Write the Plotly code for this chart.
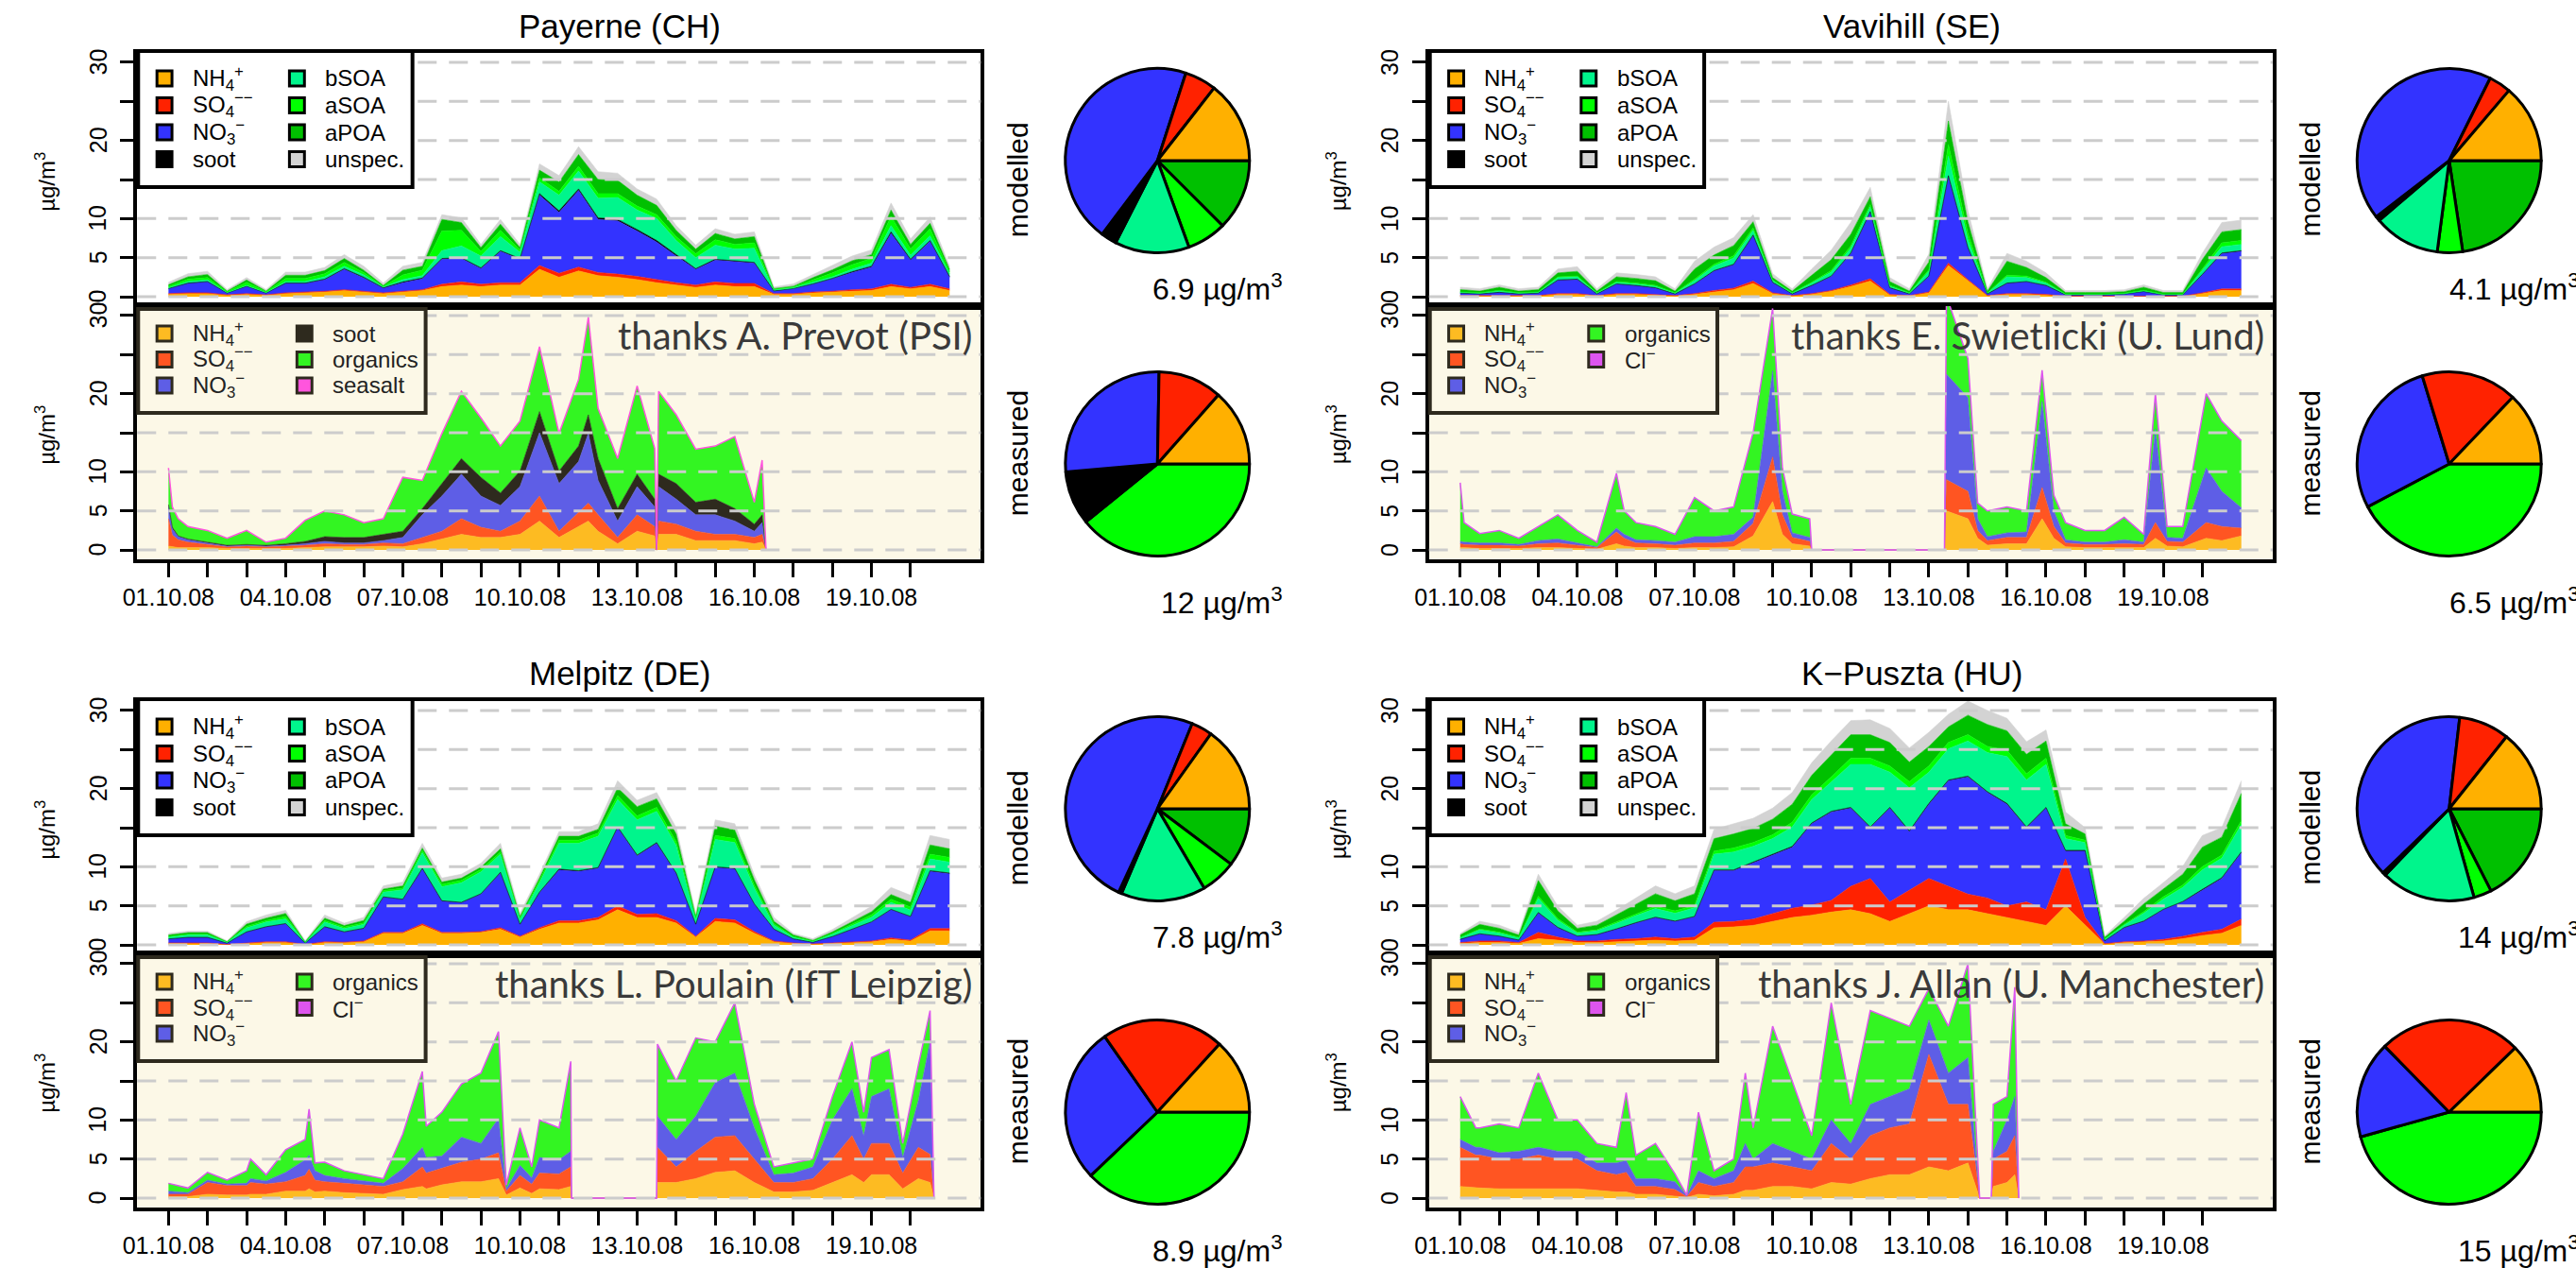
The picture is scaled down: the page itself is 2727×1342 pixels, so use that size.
import plotly.graph_objects as go

W, H = 2727, 1342
FONT = "Liberation Sans, Arial, Helvetica, sans-serif"
THANKS_FONT = "Lato, Open Sans, sans-serif"

# ---------------- time axes (days since 01.10.08) ----------------
T_MOD = [0, 0.5, 1, 1.5, 2, 2.5, 3, 3.5, 4, 4.5, 5, 5.5, 6, 6.5, 7, 7.5, 8, 8.5, 9, 9.5, 10,
         10.5, 11, 11.5, 12, 12.5, 13, 13.5, 14, 14.5, 15, 15.5, 16, 16.5, 17, 17.5, 18, 18.5, 19, 19.5, 20]
X_TICK_DAYS = [0, 1, 2, 3, 4, 5, 6, 7, 8, 9, 10, 11, 12, 13, 14, 15, 16, 17, 18, 19]
X_TICK_LABELS = ["01.10.08", "", "", "04.10.08", "", "", "07.10.08", "", "", "10.10.08", "", "",
                 "13.10.08", "", "", "16.10.08", "", "", "19.10.08", ""]
Y_TICKS = [0, 5, 10, 15, 20, 25, 30]
Y_TICK_LABELS = ["0", "5", "10", "", "20", "", "30"]

# ---------------- Payerne modelled ----------------
pay_mod_nh4 = [.3,.4,.4,.2,.3,.2,.4,.5,.6,.8,.6,.4,.6,.8,1.3,1.5,1.3,1.5,1.5,3.5,2.5,3.3,2.7,2.5,2.2,1.8,1.5,1.2,1.5,1.3,1.3,.3,.3,.5,.6,.7,.8,1.3,1.0,1.3,.8]
pay_mod_so4 = [.1,.1,.1,.05,.1,.05,.1,.1,.1,.1,.1,.1,.1,.1,.3,.4,.3,.3,.3,.5,.5,.5,.4,.4,.4,.4,.3,.3,.4,.4,.4,.1,.1,.1,.1,.2,.2,.3,.2,.3,.2]
pay_mod_no3 = [.6,1.2,1.4,.2,.9,.2,1.2,1.1,1.5,2.6,1.7,.6,1.1,1.4,3.2,3.0,2.0,4.0,3.0,9.0,7.8,9.8,6.8,6.8,5.8,4.8,3.4,2.0,2.8,2.8,2.6,.3,.6,1.0,1.6,2.2,2.8,6.5,3.5,5.5,1.5]
pay_mod_soot = [.05,.05,.05,.03,.05,.03,.05,.05,.05,.1,.1,.05,.1,.1,.1,.1,.1,.1,.1,.2,.2,.2,.2,.2,.2,.2,.2,.1,.1,.1,.1,.05,.05,.05,.05,.1,.1,.2,.1,.1,.1]
pay_mod_bsoa = [.1,.2,.2,.05,.1,.05,.2,.2,.3,.3,.3,.1,.3,.3,1.0,1.5,1.5,1.8,.8,1.5,2.0,2.3,2.5,2.8,2.5,2.8,1.8,1.4,1.8,1.5,1.8,.1,.1,.2,.2,.3,.4,.8,.5,.6,.3]
pay_mod_asoa = [.2,.3,.3,.1,.4,.1,.4,.4,.4,.5,.3,.1,.6,.7,2.5,2.0,.6,.8,.3,.5,.5,.6,.6,.5,.5,.5,.5,.5,.7,.6,.7,.1,.1,.3,.5,.6,.6,1.2,.8,.9,.3]
pay_mod_apoa = [.2,.3,.4,.1,.3,.1,.4,.4,.4,.5,.3,.1,.6,.5,1.5,1.0,.5,.8,.3,1.0,1.2,1.5,1.8,1.7,1.4,1.2,.8,.6,.8,.7,.8,.1,.1,.3,.4,.5,.5,.8,.6,.7,.3]
pay_mod_unspec = [.3,.4,.4,.2,.3,.2,.4,.4,.4,.5,.5,.3,.5,.5,.6,.6,.4,.6,.4,.8,.8,1.0,1.0,.9,.8,.8,.6,.5,.6,.6,.6,.2,.3,.4,.5,.6,.6,.9,.7,.8,.4]

# ---------------- Vavihill modelled ----------------
vav_mod_nh4 = [.1,.1,.1,.1,.1,.3,.3,.1,.3,.3,.2,.1,.3,.6,.9,1.7,.4,.1,.3,.7,1.3,2.0,.2,.1,.5,4.0,2.0,.1,.3,.3,.2,.05,.05,.05,.1,.1,.05,.05,.4,.8,.8]
vav_mod_so4 = [.05,.05,.05,.05,.05,.1,.1,.05,.1,.1,.1,.05,.1,.2,.2,.3,.1,.05,.1,.1,.2,.3,.1,.05,.1,.3,.2,.05,.1,.1,.1,.03,.03,.03,.03,.05,.03,.03,.1,.2,.2]
vav_mod_no3 = [.3,.2,.4,.2,.3,1.7,1.8,.2,1.2,1.0,.8,.2,1.2,2.5,3.0,5.8,1.3,.2,1.0,1.8,4.0,8.5,.8,.2,2.0,11.0,4.0,.2,1.3,1.5,1.1,.15,.15,.15,.2,.5,.15,.15,2.3,4.5,4.8]
vav_mod_soot = [.02,.02,.02,.02,.02,.05,.05,.02,.05,.05,.05,.02,.05,.05,.05,.1,.05,.02,.05,.05,.1,.1,.05,.02,.05,.2,.1,.02,.05,.05,.05,.02,.02,.02,.02,.02,.02,.02,.05,.1,.1]
vav_mod_bsoa = [.1,.1,.15,.1,.1,.3,.3,.1,.2,.2,.2,.1,.4,.6,.8,.6,.2,.1,.3,.5,.6,.6,.2,.1,.6,2.5,1.0,.1,.8,.5,.3,.05,.05,.05,.05,.1,.05,.05,.5,.8,.8]
vav_mod_asoa = [.05,.05,.1,.05,.05,.1,.1,.05,.1,.1,.1,.05,.2,.2,.3,.3,.1,.05,.1,.2,.3,.3,.1,.05,.2,1.5,.8,.05,.2,.2,.1,.05,.05,.05,.05,.05,.05,.05,.2,.5,.5]
vav_mod_apoa = [.3,.2,.4,.2,.3,.5,.6,.2,.6,.6,.6,.2,1.3,1.2,1.3,.8,.3,.2,.9,1.4,1.5,1.0,.5,.2,1.0,3.0,1.5,.2,1.8,1.1,.6,.2,.2,.2,.2,.4,.2,.2,1.2,1.4,1.4]
vav_mod_unspec = [.3,.3,.3,.3,.3,.5,.6,.3,.5,.5,.5,.3,1.0,1.0,1.0,.9,.5,.3,.8,1.2,1.5,1.2,.5,.3,1.0,2.5,1.4,.3,1.0,.8,.6,.25,.25,.25,.25,.3,.25,.25,.8,1.2,1.2]

# ---------------- Melpitz modelled ----------------
mel_mod_nh4 = [.2,.2,.2,.05,.2,.3,.3,.05,.3,.3,.4,1.5,1.5,2.5,1.5,1.5,1.6,2.0,1.0,2.0,2.8,2.8,3.2,4.5,3.5,3.5,2.8,1.0,3.0,2.8,1.5,.4,.2,.1,.2,.3,.4,.7,.5,1.8,1.8]
mel_mod_so4 = [.05,.05,.05,.02,.05,.1,.1,.02,.1,.05,.1,.1,.1,.2,.1,.1,.1,.2,.1,.2,.3,.3,.3,.5,.4,.5,.3,.1,.4,.4,.2,.1,.05,.03,.05,.1,.1,.2,.1,.3,.3]
mel_mod_no3 = [.5,.7,.7,.15,1.4,1.9,2.3,.15,1.9,1.3,1.6,4.5,4.2,7.0,4.0,3.8,4.8,7.0,1.5,4.5,6.5,6.3,6.3,10.0,7.5,9.0,6.0,1.5,6.5,6.5,3.5,1.5,.5,.2,.8,1.6,2.4,3.6,3.0,7.3,7.0]
mel_mod_soot = [.02,.02,.02,.01,.02,.03,.03,.01,.03,.03,.03,.05,.05,.1,.05,.05,.05,.1,.05,.05,.1,.1,.1,.1,.1,.1,.1,.05,.1,.1,.05,.03,.02,.01,.02,.03,.05,.05,.05,.1,.1]
mel_mod_bsoa = [.2,.3,.3,.1,.5,.6,.6,.1,.6,.4,.5,.6,1.2,2.0,1.8,2.5,2.8,2.3,.6,1.2,3.3,3.5,4.0,3.5,4.5,4.0,3.5,.6,3.5,3.3,2.0,.5,.2,.1,.3,.4,.6,.9,.8,1.5,1.4]
mel_mod_asoa = [.1,.1,.1,.05,.2,.2,.3,.05,.2,.2,.2,.2,.2,.3,.3,.3,.3,.3,.2,.3,.4,.4,.4,.5,.5,.5,.5,.2,.5,.5,.4,.2,.1,.05,.1,.2,.3,.4,.4,.6,.6]
mel_mod_apoa = [.2,.2,.2,.05,.3,.3,.4,.05,.3,.2,.3,.2,.3,.3,.3,.3,.3,.4,.2,.3,.5,.5,.5,1.0,1.2,1.1,1.0,.2,1.2,1.1,.7,.3,.2,.1,.2,.3,.4,.6,.6,1.2,1.1]
mel_mod_unspec = [.2,.2,.2,.1,.3,.4,.4,.1,.4,.3,.4,.4,.5,.6,.5,.5,.5,.7,.4,.5,.6,.6,.7,.9,.8,.8,.8,.4,.8,.8,.6,.5,.2,.2,.3,.5,.7,.9,.9,1.2,1.2]

# ---------------- K-Puszta modelled ----------------
kpu_mod_nh4 = [.2,.3,.3,.2,.8,.6,.3,.3,.4,.5,.6,.5,.6,2.2,2.3,2.5,3.0,3.5,3.8,4.2,4.5,4.0,3.0,4.0,5.0,4.5,4.5,4.0,3.5,3.0,2.5,5.0,2.5,.1,.3,.4,.5,.8,1.2,1.5,2.5]
kpu_mod_so4 = [.1,.2,.2,.1,.8,.4,.2,.2,.3,.3,.4,.3,.4,.7,.7,.8,1.0,1.2,1.3,1.5,3.0,4.5,2.5,3.0,3.5,3.0,2.0,2.0,1.5,2.5,2.0,6.0,1.0,.05,.1,.1,.2,.3,.4,.5,.8]
kpu_mod_no3 = [.4,.9,.6,.3,2.5,1.2,.6,.8,1.3,2.0,2.5,2.2,2.6,6.6,6.5,7.2,7.5,7.8,10.4,11.3,10.0,6.5,12.0,7.5,9.5,13.5,15.0,13.5,13.0,9.5,13.0,1.0,8.5,.35,1.8,2.5,3.8,4.4,5.4,6.5,8.5]
kpu_mod_soot = [.02,.03,.03,.02,.05,.05,.03,.03,.05,.05,.05,.05,.05,.1,.1,.1,.1,.1,.1,.1,.1,.1,.1,.1,.1,.1,.1,.1,.1,.1,.1,.1,.1,.02,.03,.05,.05,.05,.1,.1,.1]
kpu_mod_bsoa = [.2,.5,.4,.3,1.8,.9,.4,.5,.7,.9,1.1,1.0,1.1,2.0,2.3,2.0,2.0,2.5,3.0,3.7,5.5,8.0,4.5,5.5,4.0,4.0,4.5,5.0,6.0,6.0,5.5,1.5,1.0,.2,.3,1.0,1.3,1.8,2.5,2.5,3.5]
kpu_mod_asoa = [.05,.1,.1,.05,.3,.2,.1,.1,.2,.2,.3,.3,.3,.4,.5,.5,.5,.6,.6,.7,.8,.8,.8,.8,.8,.8,.8,.8,.8,.8,.8,.4,.3,.05,.1,.2,.3,.3,.4,.4,.5]
kpu_mod_apoa = [.3,.6,.5,.3,2.0,1.0,.5,.6,.9,1.3,1.6,1.3,1.5,1.6,1.8,1.8,2.0,2.3,2.5,2.8,3.0,3.0,3.0,2.5,2.5,2.0,2.5,2.8,2.5,2.5,2.2,1.5,.8,.2,.4,1.0,1.0,1.4,2.5,2.3,3.5]
kpu_mod_unspec = [.2,.4,.4,.3,.8,.6,.4,.5,.6,.8,1.0,.9,1.0,1.2,1.3,1.3,1.4,1.5,1.6,1.8,1.8,1.9,1.8,1.8,1.8,1.6,1.8,1.8,1.6,1.6,1.4,1.5,.8,.2,.5,.7,.8,1.0,1.5,1.2,1.6]

# ---------------- Payerne measured ----------------
pay_meas_t = [0, 0.1, 0.25, 0.5, 1, 1.5, 2, 2.5, 3, 3.5, 4, 4.5, 5, 5.5, 6, 6.5, 7, 7.5, 8, 8.5, 9, 9.5, 10,
              10.5, 10.75, 11, 11.5, 12, 12.45, 12.5, 12.55, 13, 13.5, 14, 14.5, 15, 15.2, 15.3]
pay_meas_nh4 = [.5,.4,.3,.3,.3,.2,.2,.2,.2,.3,.4,.4,.4,.5,.4,.8,1.4,2.0,1.6,1.6,2.0,3.7,1.6,3.0,3.7,2.4,.8,2.4,1.8,0,2.0,2.0,1.2,1.2,1.2,.8,1.0,0]
pay_meas_so4 = [3.5,1.5,1.0,.7,.4,.2,.3,.2,.3,.3,.4,.3,.3,.4,.4,.8,1.0,2.0,1.3,.8,1.7,3.2,.8,1.8,2.3,2.1,.8,2.1,1.2,0,1.7,1.3,1.2,.8,.8,.8,1.0,0]
pay_meas_no3 = [1.5,.8,.4,.3,.2,.1,.1,.1,.1,.2,.3,.2,.2,.3,.8,2.9,4.5,5.7,4.0,3.3,4.4,8.1,6.1,6.5,8.9,4.4,2.1,3.6,2.5,0,4.4,3.2,2.1,2.5,1.7,.8,1.5,0]
pay_meas_soot = [.3,.2,.1,.1,.1,.1,.1,.1,.2,.3,.6,.7,.7,.8,.8,.8,1.6,2.0,2.4,1.6,2.0,2.7,1.6,2.0,2.4,2.8,1.6,1.6,1.0,0,1.6,2.0,1.6,2.0,1.6,.9,1.0,0]
pay_meas_org = [4.7,2.6,2.2,1.6,1.5,.9,1.8,.4,.7,2.7,3.3,2.9,1.9,2.0,6.9,3.6,6.4,8.6,7.6,6.0,6.4,8.3,4.8,8.5,12.5,6.4,6.4,11.3,6.5,0,10.6,8.8,6.8,6.8,9.2,2.8,7.0,0]

# ---------------- Vavihill measured ----------------
vav_meas_t = [0, 0.1, 0.5, 1, 1.5, 2, 2.5, 3, 3.5, 4, 4.2, 4.5, 5, 5.5, 6, 6.5, 7, 7.5, 8, 8.25, 8.5, 8.95, 9.0,
              12.4, 12.45, 13, 13.25, 13.5, 14, 14.5, 14.9, 15.2, 15.5, 16, 16.5, 17, 17.5, 17.8, 18.1, 18.5, 19.1, 19.5, 20]
vav_meas_nh4 = [.3,.3,.2,.2,.2,.3,.3,.2,.1,.8,.5,.3,.3,.2,.3,.3,.4,1.8,6.2,2,.8,.5,0,0,5,4,1.5,.6,.8,.8,4,1.5,.4,.3,.3,.3,.3,1.5,.5,.4,1.5,1.2,1.8]
vav_meas_so4 = [.5,.4,.4,.4,.3,.5,.6,.4,.2,1.5,1,.6,.5,.4,.6,.6,.7,1.6,5.7,2.5,.8,.6,0,0,4,3.5,1,.6,.8,.8,4,1.5,.5,.4,.4,.5,.4,2,.6,.6,2,1.8,1.0]
vav_meas_no3 = [.3,.3,.3,.3,.2,.4,.5,.3,.1,.5,.5,.4,.4,.4,.8,.8,.9,.8,11,3,.6,.5,0,0,13.5,12,1.5,.5,.6,.7,11,2,.4,.3,.3,.5,.3,12,.5,.5,7,4.5,2.6]
vav_meas_org = [7.5,2.5,1.2,1.6,.8,1.8,3.1,1.6,.6,7,3,2.2,1.8,1,5,3.3,3.5,10.8,8,3,2.4,2.4,0,0,10,5,2,3.3,3.3,2.7,4,2,2.2,1.5,1.5,2.9,1,4.5,1.4,1.5,9.5,9,8.6]

# ---------------- Melpitz measured ----------------
mel_meas_t = [0, 0.5, 1, 1.5, 2, 2.1, 2.5, 3, 3.5, 3.6, 3.75, 4, 4.5, 5, 5.5, 6, 6.5, 6.6, 7, 7.5, 8, 8.45, 8.65, 9,
              9.3, 9.5, 10, 10.3, 10.32, 12.5, 12.52, 13, 13.5, 14, 14.5, 15, 15.5, 16, 16.5, 17, 17.5, 17.8, 18,
              18.45, 18.8, 19.2, 19.5, 19.6]
mel_meas_nh4 = [.2,.2,.5,.4,.4,.5,.5,.9,.9,1.2,.8,.9,.7,.6,.5,1.1,1.5,1.2,1.7,2.1,2.1,2.5,.4,1.3,.6,1.2,1.1,1.5,0,0,2,2,2.5,3.3,3.5,2,.8,.8,1,2,3,2,3,3,1.2,2.5,2,0]
mel_meas_so4 = [.3,.3,1.5,1.2,1.2,1.5,1.3,1.2,2,2.5,1.5,1.2,1.2,1.1,1,1,2.5,2,2.1,2.5,2.9,3.3,.5,1.6,1.2,2,2,2.5,0,0,4.5,2,3.5,4.5,4.5,3,1.2,1.2,1.5,3,5,3,4,4,2,4,3.6,0]
mel_meas_no3 = [.4,.2,.3,.2,.3,.5,.4,1.2,2,1.8,1.2,.8,.6,.5,.4,1.7,2.5,2,1.6,3.2,2,4.4,.3,1.3,.8,2,1.8,2,0,0,4,3.5,4.5,7,8,4,1,1.2,1.5,5,6,3,6,7,2,6,14.4,0]
mel_meas_org = [1.0,.6,1.0,.5,1.6,2.5,.8,2.9,2.6,5.9,1,1.7,1.0,.8,.6,4.4,9.7,4,5.6,6.8,9,11.1,.5,4.8,1.4,4.8,4.1,11.5,0,0,9.2,7.5,10,5.2,9,3,1,1.3,1,3,6,3,5,5,1.8,4.5,4,0]

# ---------------- K-Puszta measured ----------------
kpu_meas_t = [0, 0.4, 0.5, 1, 1.5, 2, 2.5, 3, 3.5, 4, 4.25, 4.5, 5, 5.5, 5.8, 6.1, 6.5, 7, 7.3, 7.5, 8, 8.5, 9,
              9.5, 10, 10.5, 11, 11.5, 12, 12.5, 13, 13.3, 13.6, 13.65, 14, 14.2, 14.3]
kpu_meas_nh4 = [1.5,1.3,1.3,1.2,1.2,1.2,1.2,1.2,1,.8,.8,.5,.5,.3,.1,.5,.3,.5,1,1,1.5,1.5,1.2,2,1.8,2.5,3,3,4,3.5,4.5,0,0,1.5,2,3,0]
kpu_meas_so4 = [5,4.2,4.2,3.8,3.8,4.3,3.8,3.8,2.5,2.2,2.5,1,1,.8,.1,1.5,1.2,1.5,3,3,3,2.5,2.3,5,3.2,5.5,6,6.5,14.4,8.5,7.5,0,0,3.5,4,5,0]
kpu_meas_no3 = [1,1,1,.8,1,1,1,1,1,1.5,1.5,1,1,1,.1,1.5,1,1.5,3,1,2.5,2,1.5,3,2,4,4,4.5,4.4,4,6,0,0,1,4,5,0]
kpu_meas_org = [5.5,2.5,2.5,3.7,3,9.5,4,4,2.5,2,8.7,3,4.5,1,.1,7.5,1,1.5,9,4,15,9,3,15,5,12,10,8,4,6,12,0,0,6,3,14,0]

# ---------------- pie shares (mean composition, degrees) ----------------
pay_pie_mod = [52, 20, 161, 10, 47, 25, 45]          # NH4, SO4, NO3, soot, bSOA, aSOA, aPOA
pay_pie_meas = [48.5, 40.5, 96, 34, 141]            # NH4, SO4, NO3, soot, organics
vav_pie_mod = [49.5, 14, 154, 3, 42, 16, 81.5]
vav_pie_meas = [46.4, 60.6, 100.7, 152.3]           # NH4, SO4, NO3, organics
mel_pie_mod = [54.5, 13.3, 177.2, 2, 53.5, 22.5, 37]
mel_pie_meas = [47.6, 77.3, 98.7, 136.4]
kpu_pie_mod = [51.5, 31.9, 140.6, 2, 59.7, 11.3, 63]
kpu_pie_meas = [44.2, 90.2, 61.2, 164.4]
totals_mod = ["6.9", "4.1", "7.8", "14"]
totals_meas = ["12", "6.5", "8.9", "15"]

site_names = ["Payerne (CH)", "Vavihill (SE)", "Melpitz (DE)", "K\u2212Puszta (HU)"]
thanks = ["thanks A. Prevot (PSI)", "thanks E. Swietlicki (U. Lund)",
          "thanks L. Poulain (IfT Leipzig)", "thanks J. Allan (U. Manchester)"]

# ---------------- colours ----------------
C_NH4, C_SO4, C_NO3, C_SOOT = '#FFB000', '#FF2200', '#3333FF', '#000000'
C_BSOA, C_ASOA, C_APOA, C_UNSPEC = '#00F58C', '#00FF00', '#00C000', '#D3D3D3'
M_NH4, M_SO4, M_NO3, M_SOOT, M_ORG = '#FDBB22', '#FF5522', '#5E5EE6', '#2E2A1E', '#33F522'
M_SEASALT, M_CL = '#FF55DD', '#DD55EE'
CREAM = '#FCF8E7'
GRID = '#CCCCCC'

MOD_COLORS = [C_NH4, C_SO4, C_NO3, C_SOOT, C_BSOA, C_ASOA, C_APOA, C_UNSPEC]
PIE_MOD_COLORS = [C_NH4, C_SO4, C_NO3, C_SOOT, C_BSOA, C_ASOA, C_APOA]

LEG_NH4 = "NH<sub>4</sub><sup>+</sup>"
LEG_SO4 = "SO<sub>4</sub><sup>\u2212\u2212</sup>"
LEG_NO3 = "NO<sub>3</sub><sup>\u2212</sup>"
LEG_CL = "Cl<sup>\u2212</sup>"

sites = [
    dict(col=0, row=0,
         mod=[pay_mod_nh4, pay_mod_so4, pay_mod_no3, pay_mod_soot, pay_mod_bsoa, pay_mod_asoa, pay_mod_apoa, pay_mod_unspec],
         meas_t=pay_meas_t,
         meas=[pay_meas_nh4, pay_meas_so4, pay_meas_no3, pay_meas_soot, pay_meas_org],
         meas_colors=[M_NH4, M_SO4, M_NO3, M_SOOT, M_ORG], top_line=M_SEASALT,
         pie_mod=pay_pie_mod, pie_meas=pay_pie_meas,
         pie_meas_colors=[C_NH4, C_SO4, C_NO3, C_SOOT, C_ASOA],
         meas_leg=[(LEG_NH4, M_NH4), (LEG_SO4, M_SO4), (LEG_NO3, M_NO3), ("soot", M_SOOT),
                   ("organics", M_ORG), ("seasalt", M_SEASALT)]),
    dict(col=1, row=0,
         mod=[vav_mod_nh4, vav_mod_so4, vav_mod_no3, vav_mod_soot, vav_mod_bsoa, vav_mod_asoa, vav_mod_apoa, vav_mod_unspec],
         meas_t=vav_meas_t,
         meas=[vav_meas_nh4, vav_meas_so4, vav_meas_no3, vav_meas_org],
         meas_colors=[M_NH4, M_SO4, M_NO3, M_ORG], top_line=M_CL,
         pie_mod=vav_pie_mod, pie_meas=vav_pie_meas,
         pie_meas_colors=[C_NH4, C_SO4, C_NO3, C_ASOA],
         meas_leg=[(LEG_NH4, M_NH4), (LEG_SO4, M_SO4), (LEG_NO3, M_NO3), ("organics", M_ORG), (LEG_CL, M_CL)]),
    dict(col=0, row=1,
         mod=[mel_mod_nh4, mel_mod_so4, mel_mod_no3, mel_mod_soot, mel_mod_bsoa, mel_mod_asoa, mel_mod_apoa, mel_mod_unspec],
         meas_t=mel_meas_t,
         meas=[mel_meas_nh4, mel_meas_so4, mel_meas_no3, mel_meas_org],
         meas_colors=[M_NH4, M_SO4, M_NO3, M_ORG], top_line=M_CL,
         pie_mod=mel_pie_mod, pie_meas=mel_pie_meas,
         pie_meas_colors=[C_NH4, C_SO4, C_NO3, C_ASOA],
         meas_leg=[(LEG_NH4, M_NH4), (LEG_SO4, M_SO4), (LEG_NO3, M_NO3), ("organics", M_ORG), (LEG_CL, M_CL)]),
    dict(col=1, row=1,
         mod=[kpu_mod_nh4, kpu_mod_so4, kpu_mod_no3, kpu_mod_soot, kpu_mod_bsoa, kpu_mod_asoa, kpu_mod_apoa, kpu_mod_unspec],
         meas_t=kpu_meas_t,
         meas=[kpu_meas_nh4, kpu_meas_so4, kpu_meas_no3, kpu_meas_org],
         meas_colors=[M_NH4, M_SO4, M_NO3, M_ORG], top_line=M_CL,
         pie_mod=kpu_pie_mod, pie_meas=kpu_pie_meas,
         pie_meas_colors=[C_NH4, C_SO4, C_NO3, C_ASOA],
         meas_leg=[(LEG_NH4, M_NH4), (LEG_SO4, M_SO4), (LEG_NO3, M_NO3), ("organics", M_ORG), (LEG_CL, M_CL)]),
]

MOD_LEG = [(LEG_NH4, C_NH4), (LEG_SO4, C_SO4), (LEG_NO3, C_NO3), ("soot", C_SOOT), ("bSOA", C_BSOA),
           ("aSOA", C_ASOA), ("aPOA", C_APOA), ("unspec.", C_UNSPEC)]

# ---------------- layout geometry (pixels) ----------------
COL_X = [131, 1506]
ROW_Y = [56, 742]
PW, PH = 898, 268
COL_DX, ROW_DY = 1375, 686


def fx(x):
    return x / W


def fy(y):
    return 1 - y / H


fig = go.Figure()
layout = dict(width=W, height=H, margin=dict(l=0, r=0, t=0, b=0), paper_bgcolor='white',
              plot_bgcolor='white', showlegend=False)
shapes, annotations = [], []

for i, s in enumerate(sites):
    col, row = s['col'], s['row']
    x0 = COL_X[col]
    y_top = ROW_Y[row]
    for j, kind in enumerate(['mod', 'meas']):
        k = 2 * i + 1 + j
        suf = '' if k == 1 else str(k)
        py0 = y_top + j * PH
        xa = dict(domain=[fx(x0), fx(x0 + PW)], range=[-0.8, 20.8], anchor='y' + suf,
                  showline=True, mirror=True, linecolor='black', linewidth=4,
                  showgrid=False, zeroline=False, fixedrange=True)
        if kind == 'meas':
            xa.update(tickmode='array', tickvals=X_TICK_DAYS, ticktext=X_TICK_LABELS,
                      ticks='outside', ticklen=15, tickwidth=3, tickcolor='black',
                      tickfont=dict(family=FONT, size=25, color='black'))
        else:
            xa.update(showticklabels=False, ticks='')
        ya = dict(domain=[fy(py0 + PH), fy(py0)], range=[-1.2, 31.2], anchor='x' + suf,
                  showline=True, mirror=True, linecolor='black', linewidth=4,
                  showgrid=False, zeroline=False, fixedrange=True,
                  tickmode='array', tickvals=Y_TICKS, showticklabels=False,
                  ticks='outside', ticklen=14, tickwidth=3, tickcolor='black')
        layout['xaxis' + suf] = xa
        layout['yaxis' + suf] = ya
        # rotated y tick labels
        for v, txt in zip(Y_TICKS, Y_TICK_LABELS):
            if txt:
                annotations.append(dict(text=txt, x=fx(89 + col * COL_DX), y=v, xref='paper', yref='y' + suf,
                                        showarrow=False, textangle=-90, xanchor='center', yanchor='middle',
                                        font=dict(family=FONT, size=25, color='black')))

        if kind == 'meas':
            shapes.append(dict(type='rect', xref='x' + suf + ' domain', yref='y' + suf + ' domain',
                               x0=0, x1=1, y0=0, y1=1, fillcolor=CREAM, line=dict(width=0), layer='below'))
        if kind == 'mod':
            for vals, c in zip(s['mod'], MOD_COLORS):
                fig.add_trace(go.Scatter(x=T_MOD, y=vals, stackgroup='g%d' % k, mode='lines',
                                         line=dict(width=0.6, color=c), fillcolor=c,
                                         xaxis='x' + suf, yaxis='y' + suf, hoverinfo='skip'))
        else:
            n = len(s['meas'])
            for m, (vals, c) in enumerate(zip(s['meas'], s['meas_colors'])):
                lc = s['top_line'] if m == n - 1 else c
                lw = 1.5 if m == n - 1 else 0.6
                fig.add_trace(go.Scatter(x=s['meas_t'], y=vals, stackgroup='g%d' % k, mode='lines',
                                         line=dict(width=lw, color=lc), fillcolor=c,
                                         xaxis='x' + suf, yaxis='y' + suf, hoverinfo='skip'))
        for v in Y_TICKS:
            shapes.append(dict(type='line', xref='x' + suf + ' domain', yref='y' + suf,
                               x0=0, x1=1, y0=v, y1=v, layer='above',
                               line=dict(color=GRID, width=3, dash='20px,13px')))
        annotations.append(dict(text='\u00b5g/m<sup>3</sup>', x=fx(33 + col * COL_DX), y=fy(py0 + 136),
                                xref='paper', yref='paper', showarrow=False, textangle=-90,
                                font=dict(family=FONT, size=24, color='black'),
                                xanchor='center', yanchor='middle'))

    # ---- legends ----
    lx, ly = x0 + 1, y_top - 2
    shapes.append(dict(type='rect', xref='paper', yref='paper', x0=fx(lx), x1=fx(lx + 292),
                       y0=fy(ly + 144), y1=fy(ly), fillcolor='white',
                       line=dict(color='black', width=4), layer='above'))
    for e, (txt, c) in enumerate(MOD_LEG):
        cc, rr = divmod(e, 4)
        sx = lx + 28 + cc * 141
        sy = ly + 29 + rr * 28.5
        shapes.append(dict(type='rect', xref='paper', yref='paper', x0=fx(sx - 8), x1=fx(sx + 8),
                           y0=fy(sy + 8), y1=fy(sy - 8), fillcolor=c,
                           line=dict(color='black', width=3), layer='above'))
        annotations.append(dict(text=txt, x=fx(sx + 28), y=fy(sy), xref='paper', yref='paper',
                                showarrow=False, xanchor='left', yanchor='middle',
                                font=dict(family=FONT, size=24, color='black')))
    mx, my = x0 + 1, y_top + PH + 3
    shapes.append(dict(type='rect', xref='paper', yref='paper', x0=fx(mx), x1=fx(mx + 306),
                       y0=fy(my + 110), y1=fy(my), fillcolor=CREAM,
                       line=dict(color=M_SOOT, width=4), layer='above'))
    for e, (txt, c) in enumerate(s['meas_leg']):
        cc, rr = divmod(e, 3)
        sx = mx + 28 + cc * 149
        sy = my + 26 + rr * 27.5
        shapes.append(dict(type='rect', xref='paper', yref='paper', x0=fx(sx - 8), x1=fx(sx + 8),
                           y0=fy(sy + 8), y1=fy(sy - 8), fillcolor=c,
                           line=dict(color=M_SOOT, width=3), layer='above'))
        annotations.append(dict(text=txt, x=fx(sx + 28), y=fy(sy), xref='paper', yref='paper',
                                showarrow=False, xanchor='left', yanchor='middle',
                                font=dict(family=FONT, size=24, color='#222222')))

    # ---- title and acknowledgement ----
    annotations.append(dict(text=site_names[i], x=fx(645 + col * COL_DX), y=fy(27 + row * ROW_DY),
                            xref='paper', yref='paper', showarrow=False, xanchor='center', yanchor='middle',
                            font=dict(family=FONT, size=35, color='black')))
    annotations.append(dict(text=thanks[i], x=fx(1022 + col * COL_DX), y=fy(355 + row * ROW_DY),
                            xref='paper', yref='paper', showarrow=False, xanchor='right', yanchor='middle',
                            font=dict(family=THANKS_FONT, size=40, color='#3A3A3A')))

    # ---- pies (R style: start at 3 o'clock, counter-clockwise) ----
    pcx = 1217 + col * COL_DX
    for j, (vals, cols, tot, lab) in enumerate([(s['pie_mod'], PIE_MOD_COLORS, totals_mod[i], 'modelled'),
                                                (s['pie_meas'], s['pie_meas_colors'], totals_meas[i], 'measured')]):
        pcy = 170 + j * 321 + row * ROW_DY
        r = 98
        fig.add_trace(go.Pie(values=vals[::-1],
                             marker=dict(colors=cols[::-1], line=dict(color='black', width=3)),
                             sort=False, direction='clockwise', rotation=90, textinfo='none',
                             hoverinfo='skip', showlegend=False,
                             domain=dict(x=[fx(pcx - r), fx(pcx + r)], y=[fy(pcy + r), fy(pcy - r)])))
        annotations.append(dict(text=lab, x=fx(1068 + col * COL_DX), y=fy(pcy + 20 - j * 31),
                                xref='paper', yref='paper', showarrow=False, textangle=-90,
                                xanchor='center', yanchor='middle',
                                font=dict(family=FONT, size=30, color='black')))
        annotations.append(dict(text=tot + ' \u00b5g/m<sup>3</sup>', x=fx(1352 + col * COL_DX + col * 6),
                                y=fy(pcy + 134 + j * 11), xref='paper', yref='paper', showarrow=False,
                                xanchor='right', yanchor='middle',
                                font=dict(family=FONT, size=32, color='black')))

layout['shapes'] = shapes
layout['annotations'] = annotations
fig.update_layout(**layout)
fig.write_html("out.html")
